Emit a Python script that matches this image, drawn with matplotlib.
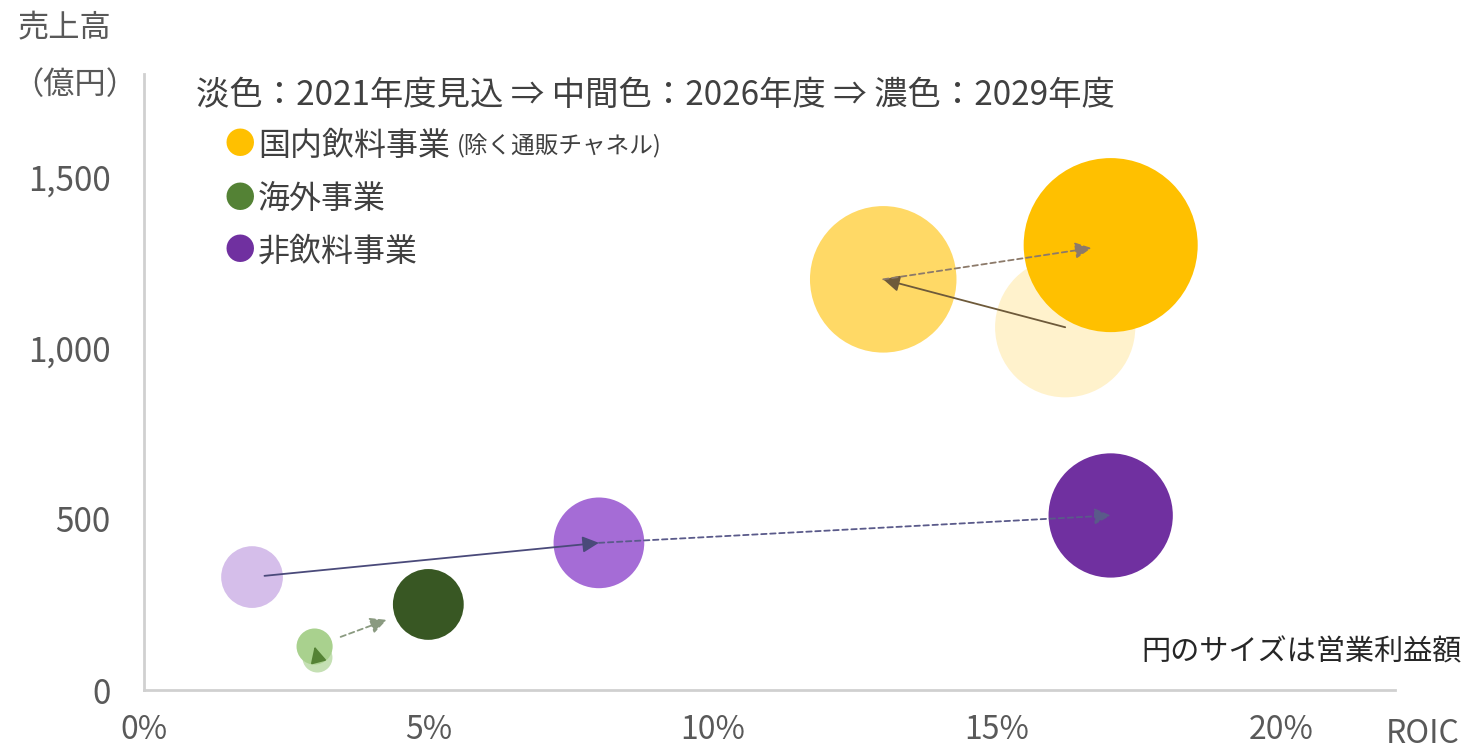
import numpy as np
import matplotlib
matplotlib.use("Agg")
import matplotlib.pyplot as plt
from matplotlib.ticker import FuncFormatter

plt.rcParams['font.family'] = ['Noto Sans CJK JP', 'DejaVu Sans']

# ---- data (ROIC %, sales 億円, operating profit as bubble size) ----
stages = ['2021年度見込', '2026年度', '2029年度']

dom_roic = [16.2, 13.0, 17.0]
dom_sales = [1060, 1200, 1300]
dom_profit = [98, 107, 151]

ovs_roic = [3.05, 3.0, 5.0]
ovs_sales = [95, 127, 250]
ovs_profit = [4.5, 6.5, 25]

nbv_roic = [1.9, 8.0, 17.0]
nbv_sales = [330, 430, 510]
nbv_profit = [19, 41, 77]

legend_names = ['国内飲料事業', '海外事業', '非飲料事業']

# ---- styles ----
dom_colors = ['#FFF2CC', '#FFD966', '#FFC000']
ovs_colors = ['#C5E0B4', '#A9D18E', '#385723']
nbv_colors = ['#D5BEEA', '#A56CD6', '#7030A0']
legend_colors = ['#FFC000', '#548235', '#7030A0']
arrow_colors = {'dom': '#7F6000', 'ovs': '#548235', 'nbv': '#1F2A6B'}
size_k = 104.0  # points^2 per unit of profit
txt = '#404040'
tick_c = '#595959'

fig = plt.figure(figsize=(14.65, 7.52), dpi=100)
W, H = 1465, 752
ax = fig.add_axes([144 / W, 1 - 690 / H, (1395 - 144) / W, (690 - 74) / H])
ax.set_xlim(0, 22)
ax.set_ylim(0, 1800)

series = [
    ('dom', dom_roic, dom_sales, dom_profit, dom_colors),
    ('nbv', nbv_roic, nbv_sales, nbv_profit, nbv_colors),
    ('ovs', ovs_roic, ovs_sales, ovs_profit, ovs_colors),
]

for key, xs, ys, ps, cols in series:
    for x, y, p, c in zip(xs, ys, ps, cols):
        ax.scatter(x, y, s=p * size_k, color=c, edgecolors='none', zorder=2)

# arrows between stages
def arrow(x0, y0, x1, y1, color, ls, shrink_a=0, shrink_b=0, lc=None):
    ax.annotate('', xy=(x1, y1), xytext=(x0, y0),
                arrowprops=dict(arrowstyle='-|>,head_length=0.7,head_width=0.35',
                                color=lc or color, lw=1.3, linestyle=ls,
                                shrinkA=shrink_a, shrinkB=shrink_b,
                                mutation_scale=14, facecolor=color),
                zorder=4)

arrow(dom_roic[0], dom_sales[0], dom_roic[1], dom_sales[1],
      arrow_colors['dom'], '-', lc='#6E5A3A')
arrow(dom_roic[1], dom_sales[1], dom_roic[2], dom_sales[2],
      arrow_colors['dom'], (0, (3, 2)), shrink_b=14, lc='#8C7A6A')
arrow(nbv_roic[0], nbv_sales[0], nbv_roic[1], nbv_sales[1],
      arrow_colors['nbv'], '-', shrink_a=9, lc='#4A4A7A')
arrow(nbv_roic[1], nbv_sales[1], nbv_roic[2], nbv_sales[2],
      arrow_colors['nbv'], (0, (3, 2)), lc='#5A5A8A')
arrow(ovs_roic[0], ovs_sales[0], ovs_roic[1], ovs_sales[1],
      arrow_colors['ovs'], '-', shrink_a=6)
arrow(ovs_roic[1], ovs_sales[1], ovs_roic[2], ovs_sales[2],
      arrow_colors['ovs'], (0, (3, 2)), shrink_a=20, shrink_b=32, lc='#8A9A80')

# axes styling
for sp in ['top', 'right']:
    ax.spines[sp].set_visible(False)
for sp in ['left', 'bottom']:
    ax.spines[sp].set_color('#D0D0D0')
    ax.spines[sp].set_linewidth(2)
ax.set_xticks([0, 5, 10, 15, 20])
ax.set_yticks([0, 500, 1000, 1500])
ax.xaxis.set_major_formatter(FuncFormatter(lambda v, _: f'{v:.0f}%'))
ax.yaxis.set_major_formatter(FuncFormatter(lambda v, _: f'{v:,.0f}'))
ax.tick_params(length=0, labelsize=24, colors=tick_c)
ax.tick_params(axis='x', pad=17, labelsize=23)
ax.tick_params(axis='y', pad=24)

# texts
fig.text(18 / W, 1 - 28 / H, '売上高', fontsize=22.5, color=tick_c, va='center', ha='left')
fig.text(12 / W, 1 - 85 / H, '（億円）', fontsize=22.5, color=tick_c, va='center', ha='left')
fig.text(1460 / W, 1 - 734 / H, 'ROIC', fontsize=23, color=tick_c, va='center', ha='right')
fig.text(1462 / W, 1 - 652 / H, '円のサイズは営業利益額', fontsize=21, color='#262626',
         va='center', ha='right')

title = (f'淡色：{stages[0]} ⇒ 中間色：{stages[1]} ⇒ 濃色：{stages[2]}')
fig.text(196 / W, 1 - 95 / H, title, fontsize=24, color=txt, va='center', ha='left')

for i, (name, c) in enumerate(zip(legend_names, legend_colors)):
    yy = 1 - (146 + 53 * i) / H
    fig.text(240 / W, yy, '●', fontsize=22, color=c, va='center', ha='center')
    fig.text(258 / W, yy, name, fontsize=23, color=txt, va='center', ha='left')
    if i == 0:
        fig.text(457 / W, yy, '(除く通販チャネル)', fontsize=17, color=txt,
                 va='center', ha='left')

fig.savefig('out.png', dpi=100)
